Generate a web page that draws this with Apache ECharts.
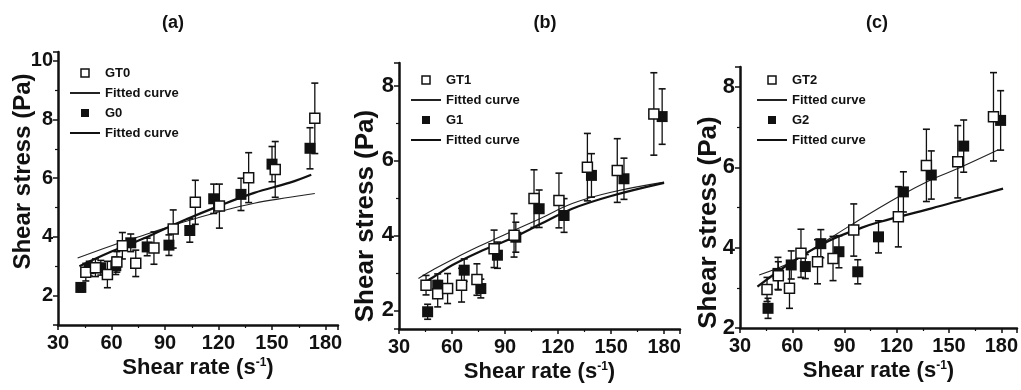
<!DOCTYPE html>
<html><head><meta charset="utf-8">
<script src="https://cdn.jsdelivr.net/npm/echarts@6/dist/echarts.min.js"></script>
<style>html,body{margin:0;padding:0;background:#fff}#c{width:1021px;height:390px}</style>
</head><body><div id="c"></div>
<script>
// ---- data: [shear rate, shear stress, error] ----
const panelTitles = ['(a)', '(b)', '(c)'];
const xTickValues = [30, 60, 90, 120, 150, 180];
const openNames = ['GT0', 'GT1', 'GT2'];
const filledNames = ['G0', 'G1', 'G2'];

const gt0 = [[45.6,2.8,0.3],[51,2.95,0.3],[57.7,2.72,0.45],[63,3.15,0.35],[66.1,3.7,0.45],[73.6,3.1,0.45],[83.8,3.62,0.55],[94.6,4.27,0.65],[107,5.18,0.75],[120.5,5.05,0.75],[136.9,6.02,0.85],[151.8,6.3,0.95],[174,8.04,1.2]];
const g0 = [[42.8,2.28,0.15],[47.5,2.92,0.25],[54,2.95,0.25],[62.4,3.02,0.3],[70.8,3.8,0.3],[80,3.66,0.3],[92.2,3.72,0.35],[103.9,4.22,0.4],[117.3,5.3,0.5],[132.6,5.45,0.55],[150,6.48,0.6],[171.3,7.02,0.7]];
const gt0Fit = [[41,3.28],[60,3.7],[80,4.1],[100,4.5],[120,4.85],[140,5.15],[160,5.35],[174,5.48]];
const g0Fit = [[42,3.0],[60,3.5],[80,4.0],[100,4.55],[120,5.05],[140,5.5],[160,5.85],[172,6.12]];

const gt1 = [[45.3,2.67,0.26],[51.9,2.44,0.35],[57.5,2.58,0.4],[65.4,2.67,0.45],[74.1,2.82,0.42],[83.8,3.64,0.5],[95.1,4.0,0.58],[106.4,4.98,0.77],[120.5,4.93,0.73],[136.6,5.82,0.9],[153.5,5.73,0.85],[174.2,7.24,1.1]];
const g1 = [[46.2,1.96,0.2],[51.9,2.67,0.3],[66.9,3.07,0.3],[76.3,2.58,0.25],[85.7,3.47,0.35],[96.1,3.95,0.4],[109.3,4.71,0.5],[123.4,4.53,0.45],[138.9,5.6,0.58],[157.3,5.51,0.55],[178.9,7.17,0.74]];
const gt1Fit = [[41,2.85],[50,3.1],[60,3.35],[75,3.7],[95,4.13],[110,4.45],[128,4.85],[150,5.15],[180,5.42]];
const g1Fit = [[43,2.7],[50,2.9],[60,3.2],[75,3.55],[95,3.95],[110,4.3],[128,4.71],[150,5.05],[180,5.4]];

const gt2 = [[45.5,2.96,0.3],[52,3.3,0.35],[58.4,2.99,0.5],[65,3.86,0.6],[74.5,3.65,0.55],[83.4,3.73,0.55],[95.3,4.44,0.65],[120.9,4.77,0.75],[137,6.05,0.9],[155,6.14,0.9],[175.5,7.26,1.1]];
const g2 = [[46.1,2.49,0.25],[51.8,3.36,0.4],[59.4,3.57,0.35],[67.5,3.53,0.3],[76.4,4.1,0.35],[86.8,3.9,0.4],[97.6,3.4,0.3],[109.5,4.27,0.4],[123.8,5.39,0.5],[139.8,5.81,0.6],[158.4,6.53,0.65],[179.6,7.17,0.74]];
const gt2Fit = [[41,3.32],[60,3.65],[75,4.05],[95,4.6],[121,5.27],[140,5.7],[155,5.97],[178,6.43]];
const g2Fit = [[40,3.03],[60,3.65],[80,4.15],[100,4.5],[110,4.64],[140,4.98],[160,5.22],[181,5.47]];

const yRanges = [[1, 10.3], [1.5, 8.6], [2, 8.5]];
const xMax = [187, 189, 189];

// ---- layout ----
const grids = [
  {left: 58, top: 52, width: 280, height: 273},
  {left: 399, top: 63, width: 281, height: 266},
  {left: 740, top: 67, width: 281, height: 261}
];
const titleX = [168, 540, 872];
const yLabelSize = [20, 22, 22];
const yNameSize = [24, 26, 26];
const yNamePad = [[0,0,0,34],[0,40,0,0],[0,50,0,0]];
const yNameGap = [23, 20, 18];
const legendPos = [{left: 69, top: 66}, {left: 410, top: 73}, {left: 756, top: 73}];

const sets = [[gt0, g0, gt0Fit, g0Fit], [gt1, g1, gt1Fit, g1Fit], [gt2, g2, gt2Fit, g2Fit]];

const FONT = '"Liberation Sans", Arial, sans-serif';
const NARROW = '"Liberation Sans Narrow", "Arial Narrow", "Liberation Sans", sans-serif';
const SQUARE = 'path://M0,0L10,0L10,10L0,10Z';

function errSeries(data, i, z) {
  return {
    type: 'custom', xAxisIndex: i, yAxisIndex: i, data: data, z: z, silent: true,
    encode: {x: 0, y: 1},
    renderItem: function (params, api) {
      const x = api.value(0), y = api.value(1), e = api.value(2);
      const t = api.coord([x, y + e]), b = api.coord([x, y - e]);
      const w = 3.5;
      return {type: 'group', children: [
        {type: 'line', shape: {x1: t[0], y1: t[1], x2: b[0], y2: b[1]}, style: {stroke: '#111', lineWidth: 1.3}},
        {type: 'line', shape: {x1: t[0] - w, y1: t[1], x2: t[0] + w, y2: t[1]}, style: {stroke: '#111', lineWidth: 1.6}},
        {type: 'line', shape: {x1: b[0] - w, y1: b[1], x2: b[0] + w, y2: b[1]}, style: {stroke: '#111', lineWidth: 1.6}}
      ]};
    }
  };
}

const hiddenDot = {color: 'rgba(0,0,0,0)', borderWidth: 0, opacity: 0};

const option = {
  animation: false,
  backgroundColor: '#fff',
  title: panelTitles.map((t, i) => ({
    text: t, left: titleX[i], top: 9, textAlign: 'center',
    textStyle: {fontFamily: NARROW, fontWeight: 'bold', fontSize: 18, color: '#111'}
  })),
  grid: grids.map(g => Object.assign({containLabel: false}, g)),
  xAxis: grids.map((g, i) => ({
    type: 'value', gridIndex: i, min: 30, max: xMax[i], interval: 30,
    name: 'Shear rate (s{sup|-1})', nameLocation: 'middle', nameGap: 32, nameMoveOverlap: false,
    nameTextStyle: {fontFamily: FONT, fontWeight: 'bold', fontSize: 22, color: '#111',
      rich: {sup: {fontFamily: FONT, fontWeight: 'bold', fontSize: 12, verticalAlign: 'top', color: '#111'}}},
    axisLine: {show: true, onZero: false, lineStyle: {color: '#111', width: 2.5}},
    axisTick: {show: true, length: 5, lineStyle: {color: '#111', width: 1.5}},
    minorTick: {show: true, splitNumber: 2, length: 3, lineStyle: {color: '#111', width: 1.2}},
    splitLine: {show: false},
    axisLabel: {margin: 8, fontFamily: NARROW, fontWeight: 'bold', fontSize: 20, color: '#111',
      formatter: v => (xTickValues.indexOf(v) >= 0 ? String(v) : '')}
  })),
  yAxis: grids.map((g, i) => ({
    type: 'value', gridIndex: i, min: yRanges[i][0], max: yRanges[i][1], splitNumber: 4,
    name: 'Shear stress (Pa)', nameLocation: 'middle', nameRotate: 90, nameGap: yNameGap[i], nameMoveOverlap: false,
    nameTextStyle: {fontFamily: FONT, fontWeight: 'bold', fontSize: yNameSize[i], color: '#111', padding: yNamePad[i]},
    axisLine: {show: true, onZero: false, lineStyle: {color: '#111', width: 2.5}},
    axisTick: {show: true, length: 5, lineStyle: {color: '#111', width: 1.5}},
    minorTick: {show: true, splitNumber: 2, length: 3, lineStyle: {color: '#111', width: 1.2}},
    splitLine: {show: false},
    axisLabel: {margin: 5, fontFamily: FONT, fontWeight: 'bold', fontSize: yLabelSize[i], color: '#111',
      showMinLabel: i === 2, showMaxLabel: false,
      formatter: v => (Math.abs(v - Math.round(v)) < 1e-9 && Math.round(v) % 2 === 0 ? String(v) : '')}
  })),
  legend: grids.map((g, i) => ({
    orient: 'vertical', left: legendPos[i].left, top: legendPos[i].top,
    itemWidth: 30, itemHeight: 8, itemGap: 6, padding: 0,
    selectedMode: false, symbolKeepAspect: true,
    textStyle: {fontFamily: FONT, fontWeight: 'bold', fontSize: 13, color: '#111', lineHeight: 14},
    formatter: n => (n.indexOf(' fit') >= 0 ? 'Fitted curve' : n),
    data: [
      {name: openNames[i], icon: SQUARE, itemStyle: {color: '#fff', borderColor: '#111', borderWidth: 1.5}},
      {name: openNames[i] + ' fit', itemStyle: hiddenDot},
      {name: filledNames[i], icon: SQUARE, itemStyle: {color: '#111', borderWidth: 0}},
      {name: filledNames[i] + ' fit', itemStyle: hiddenDot}
    ]
  })),
  series: []
};

sets.forEach((s, i) => {
  const [open, filled, openFit, filledFit] = s;
  option.series.push({
    name: openNames[i] + ' fit', type: 'line', xAxisIndex: i, yAxisIndex: i, data: openFit,
    smooth: 0.4, symbol: 'none', z: 3, itemStyle: {color: '#222'}, lineStyle: {color: '#222', width: 1.1}
  });
  option.series.push({
    name: filledNames[i] + ' fit', type: 'line', xAxisIndex: i, yAxisIndex: i, data: filledFit,
    smooth: 0.4, symbol: 'none', z: 3, itemStyle: {color: '#111'}, lineStyle: {color: '#111', width: 2.2}
  });
  option.series.push(errSeries(filled, i, 4));
  option.series.push(errSeries(open, i, 4));
  option.series.push({
    name: filledNames[i], type: 'scatter', xAxisIndex: i, yAxisIndex: i, data: filled,
    symbol: 'rect', symbolSize: 11, z: 5, itemStyle: {color: '#111', opacity: 1}
  });
  option.series.push({
    name: openNames[i], type: 'scatter', xAxisIndex: i, yAxisIndex: i, data: open,
    symbol: 'rect', symbolSize: 10, z: 6, itemStyle: {color: '#fff', borderColor: '#111', borderWidth: 1.5, opacity: 1}
  });
});

const chart = echarts.init(document.getElementById('c'), null, {renderer: 'canvas'});
chart.setOption(option);
</script>
</body></html>
